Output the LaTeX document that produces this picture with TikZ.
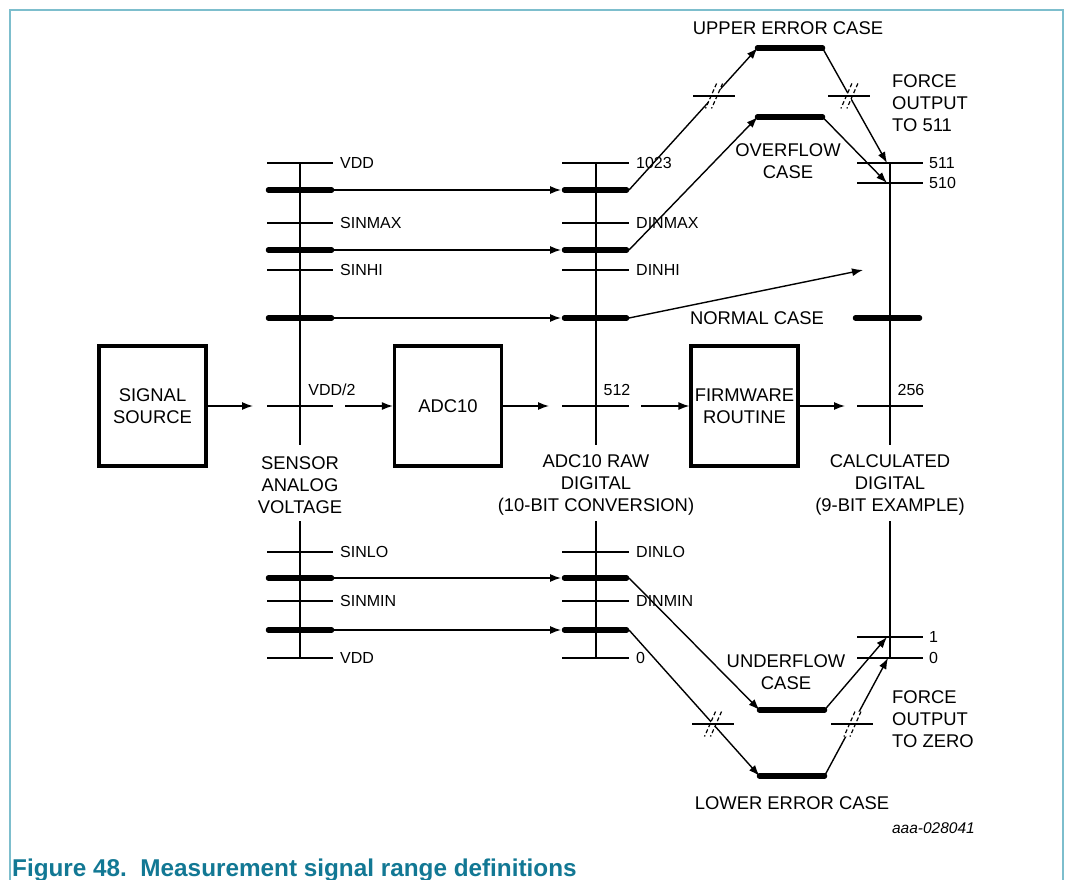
\documentclass[tikz,border=0pt]{standalone}
\usepackage{fontspec}
\setmainfont{Liberation Sans}
\usetikzlibrary{arrows.meta}
\definecolor{framecol}{RGB}{125,190,205}
\definecolor{capcol}{RGB}{18,120,148}
\newcommand\brkmark[1]{%
  \begin{scope}[shift={(#1)}]
    \fill[white] (2.5,-12.5) -- (8.5,-12.5) -- (-2.5,12.5) -- (-8.5,12.5) -- cycle;
    \draw[line width=1.2pt,dash pattern=on 4pt off 2.5pt] (2.5,-12.5) -- (-8.5,12.5);
    \draw[line width=1.2pt,dash pattern=on 4pt off 2.5pt] (8.5,-12.5) -- (-2.5,12.5);
    \draw[tline] (-21,0) -- (21,0);
  \end{scope}}
\begin{document}
\begin{tikzpicture}[x=1pt,y=-1pt,
  tline/.style={line width=1.4pt},
  bar/.style={line width=5.5pt,line cap=round},
  arr/.style={line width=1.4pt,-{Latex[length=11pt,width=8pt]}},
  box/.style={draw,line width=3.2pt,minimum width=107pt,minimum height=120pt,inner sep=0,align=center,font=\fontsize{18.4}{22}\selectfont},
  lab/.style={inner sep=0,anchor=west,font=\fontsize{16}{19}\selectfont},
  big/.style={inner sep=0,align=center,font=\fontsize{18.4}{22}\selectfont}]
\useasboundingbox (0,0) rectangle (1066,880);
% frame
\draw[framecol,line width=1.6pt] (10,882) -- (10,10) -- (1063,10) -- (1063,882);

% axes
\foreach \x in {300,596}{
  \draw[tline] (\x,163) -- (\x,445);
  \draw[tline] (\x,521) -- (\x,658);
}
\draw[tline] (890,163) -- (890,445);
\draw[tline] (890,521) -- (890,658);

% ticks on sensor and ADC axes
\foreach \y in {163,223,270,406,552,601,658}{
  \draw[tline] (267,\y) -- (333,\y);
  \draw[tline] (562,\y) -- (629,\y);
}
\foreach \y in {163,183,406,637,658}{
  \draw[tline] (857,\y) -- (923,\y);
}

% thick bars
\foreach \y/\n in {190/1,250/2,318/3,578/4,630/5}{
  \draw[bar] (268.5,\y) -- (331.5,\y);
  \draw[bar] (564.5,\y) -- (626.5,\y);
  \coordinate (s\n) at (334,\y);
  \coordinate (a\n l) at (561,\y);
  \coordinate (a\n r) at (629,\y);
}
\draw[bar] (757.5,48) coordinate (uel) -- (822.5,48) coordinate (uer);
\draw[bar] (757.5,117) coordinate (ofl) -- (822.5,117) coordinate (ofr);
\draw[bar] (759.5,710) coordinate (ufl) -- (824.5,710) coordinate (ufr);
\draw[bar] (759.5,776) coordinate (lel) -- (824.5,776) coordinate (ler);
\draw[bar] (855.5,318) -- (919.5,318);

\coordinate (c511) at (887,163);
\coordinate (c510) at (887,183);
\coordinate (nc) at (863,270);
\coordinate (c1) at (887,637);
\coordinate (c0) at (888,658);

% straight arrows sensor -> ADC
\foreach \n in {1,...,5}{ \draw[arr] (s\n) -- (a\n l); }

% routing connectors
\draw[arr] (a1r) -- (uel) coordinate[pos=0.662] (b1);
\draw[arr] (uer) -- (c511) coordinate[pos=0.417] (b2);
\draw[arr] (a2r) -- (ofl);
\draw[arr] (ofr) -- (c510);
\draw[arr] (a3r) -- (nc);
\draw[arr] (a4r) -- (ufl);
\draw[arr] (ufr) -- (c1);
\draw[arr] (a5r) -- (lel) coordinate[pos=0.644] (b3);
\draw[arr] (ler) -- (c0) coordinate[pos=0.44] (b4);
\brkmark{b1}
\brkmark{b2}
\brkmark{b3}
\brkmark{b4}

% boxes
\node[box] (src) at (152.5,406) {SIGNAL\\SOURCE};
\node[box] (adc) at (448,406) {ADC10};
\node[box] (fw) at (744.5,406) {FIRMWARE\\ROUTINE};
\coordinate (m1) at (253,406);
\coordinate (m2) at (345,406);
\coordinate (m3) at (549,406);
\coordinate (m4) at (641,406);
\coordinate (m5) at (845,406);
\draw[arr] (src.east) -- (m1);
\draw[arr] (m2) -- (adc.west);
\draw[arr] (adc.east) -- (m3);
\draw[arr] (m4) -- (fw.west);
\draw[arr] (fw.east) -- (m5);

% small labels
\foreach \y/\t in {163/VDD,223/SINMAX,270/SINHI,552/SINLO,601/SINMIN,658/VDD}{
  \node[lab] at (340,\y) {\t};
}
\foreach \y/\t in {163/1023,223/DINMAX,270/DINHI,552/DINLO,601/DINMIN,658/0}{
  \node[lab] at (636,\y) {\t};
}
\foreach \y/\t in {163/511,183/510,637/1,658/0}{
  \node[lab] at (929,\y) {\t};
}
\node[lab,anchor=center] (lvdd2) at (332,390) {VDD/2};
\node[lab,anchor=center] (l512) at (617,390) {512};
\node[lab,anchor=center] (l256) at (911,390) {256};

% big labels
\node[big] (t1) at (300,485) {SENSOR\\ANALOG\\VOLTAGE};
\node[big] (t2) at (596,485) {ADC10 RAW\\DIGITAL\\(10-BIT CONVERSION)};
\node[big] (t3) at (890,485) {CALCULATED\\DIGITAL\\(9-BIT EXAMPLE)};
\node[big] (t4) at (788,28) {UPPER ERROR CASE};
\node[big] (t5) at (788,161) {OVERFLOW\\CASE};
\node[big,anchor=west,align=left] (t6) at (892,103) {FORCE\\OUTPUT\\TO 511};
\node[big] (t7) at (757,318) {NORMAL CASE};
\node[big] (t8) at (786,672) {UNDERFLOW\\CASE};
\node[big,anchor=west,align=left] (t9) at (892,719) {FORCE\\OUTPUT\\TO ZERO};
\node[big] (t10) at (792,803) {LOWER ERROR CASE};
\node[inner sep=0,anchor=east,font=\itshape\fontsize{15.5}{18}\selectfont] (code) at (975,828) {aaa-028041};

% caption
\node[anchor=base west,inner sep=0,text=capcol,font=\bfseries\fontsize{24.3}{28}\selectfont] (caption) at (12,876) {Figure 48.\ \ Measurement signal range definitions};
\end{tikzpicture}
\end{document}
